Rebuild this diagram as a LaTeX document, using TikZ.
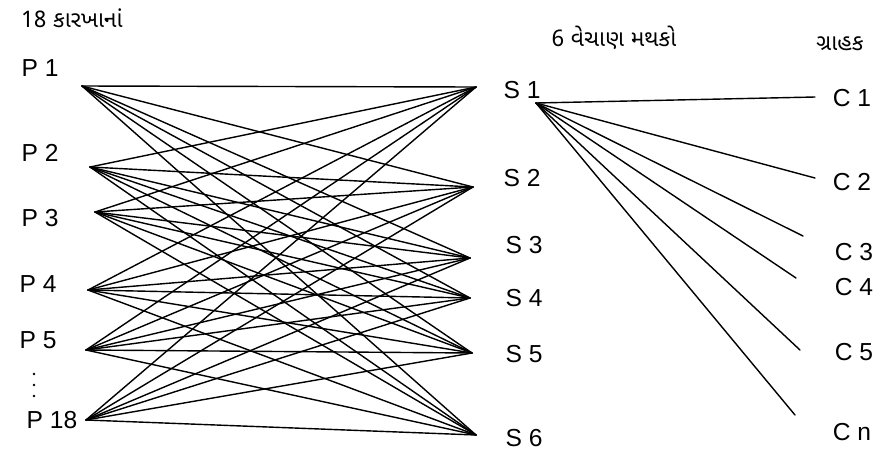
\documentclass[tikz,border=0pt]{standalone}
\usepackage{fontspec}
\setmainfont{Liberation Sans}
\newfontfamily\gujfont[Script=Gujarati]{Noto Sans Gujarati UI}
\begin{document}
\begin{tikzpicture}[x=0.02cm,y=-0.02cm,
  lbl/.style={font=\fontsize{14}{16}\selectfont, inner sep=1pt},
  hdr/.style={font=\gujfont\fontsize{13}{15}\selectfont, inner sep=1pt},
  wire/.style={line width=0.8pt, line cap=round}]
\useasboundingbox (0,0) rectangle (887,471);
% headers
\node[hdr] (h1) at (72,18) {18 કારખાનાં};
\node[hdr] (h2) at (614,38) {6 વેચાણ મથકો};
\node[hdr] (h3) at (840,44) {ગ્રાહક};
% producer labels
\node[lbl] (P1) at (40,68) {P 1};
\node[lbl] (P2) at (40,153) {P 2};
\node[lbl] (P3) at (40,218) {P 3};
\node[lbl] (P4) at (38,284) {P 4};
\node[lbl] (P5) at (38,340) {P 5};
\node[lbl] (P18) at (52,420) {P 18};
\foreach \y in {374,385,396} \fill (34,\y) circle (1.4);
% producer endpoints
\coordinate (p1) at (82,86);
\coordinate (p2) at (90,167);
\coordinate (p3) at (95,212);
\coordinate (p4) at (88,290);
\coordinate (p5) at (86,350);
\coordinate (p18) at (86,420);
% store labels
\node[lbl] (S1) at (522,90) {S 1};
\node[lbl] (S2) at (522,178) {S 2};
\node[lbl] (S3) at (524,245) {S 3};
\node[lbl] (S4) at (524,298) {S 4};
\node[lbl] (S5) at (524,354) {S 5};
\node[lbl] (S6) at (524,438) {S 6};
% store endpoints
\coordinate (s1) at (476,87);
\coordinate (s2) at (473,187);
\coordinate (s3) at (470,258);
\coordinate (s4) at (470,298);
\coordinate (s5) at (472,353);
\coordinate (s6) at (476,435);
% bipartite lines
\foreach \p in {p1,p2,p3,p4,p5,p18}
  \foreach \s in {s1,s2,s3,s4,s5,s6}
    \draw[wire] (\p) -- (\s);
% customers
\coordinate (src) at (536,103);
\node[lbl] (C1) at (852,98) {C 1};
\node[lbl] (C2) at (852,182) {C 2};
\node[lbl] (C3) at (854,252) {C 3};
\node[lbl] (C4) at (854,287) {C 4};
\node[lbl] (C5) at (854,352) {C 5};
\node[lbl] (Cn) at (852,432) {C n};
\coordinate (c1) at (815,97);
\coordinate (c2) at (815,178);
\coordinate (c3) at (803,236);
\coordinate (c4) at (796,278);
\coordinate (c5) at (800,350);
\coordinate (cn) at (795,415);
\foreach \c in {c1,c2,c3,c4,c5,cn}
  \draw[wire] (src) -- (\c);
\end{tikzpicture}
\end{document}
